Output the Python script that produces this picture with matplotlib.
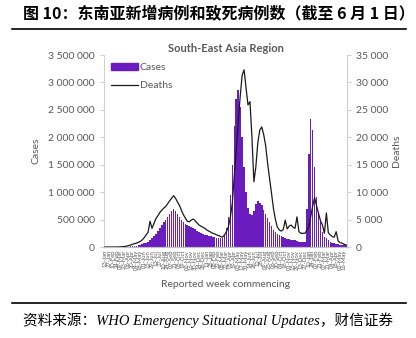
import numpy as np
import pandas as pd
import matplotlib
matplotlib.use('Agg')
import matplotlib.pyplot as plt
from matplotlib.patches import Patch
from matplotlib.lines import Line2D
from matplotlib.ticker import FuncFormatter

# weekly data, South-East Asia region, week commencing 13-Jan-2020
weeks = pd.date_range('2020-01-13', periods=124, freq='7D')
week_labels = [d.strftime('%d-%b') for d in weeks]

# cases in millions
cases_m = [0, 0, 0, 0, 0, 0, 0, 0.0005, 0.001, 0.002,
           0.004, 0.006, 0.008, 0.01, 0.013, 0.017, 0.022, 0.03, 0.04, 0.05,
           0.065, 0.08, 0.1, 0.13, 0.16, 0.2, 0.24, 0.29, 0.34, 0.4,
           0.45, 0.5, 0.55, 0.6, 0.66, 0.69, 0.66, 0.6, 0.55, 0.5,
           0.45, 0.42, 0.4, 0.39, 0.37, 0.35, 0.32, 0.3, 0.27, 0.25,
           0.23, 0.22, 0.21, 0.2, 0.2, 0.19, 0.18, 0.17, 0.16, 0.16,
           0.17, 0.22, 0.35, 0.55, 0.95, 1.5, 2.2, 2.7, 2.87, 2.55,
           2.0, 1.45, 1.0, 0.72, 0.6, 0.58, 0.65, 0.78, 0.83, 0.8,
           0.76, 0.68, 0.6, 0.53, 0.46, 0.38, 0.31, 0.27, 0.24, 0.22,
           0.2, 0.18, 0.17, 0.15, 0.14, 0.13, 0.12, 0.12, 0.11, 0.1,
           0.1, 0.09, 0.1, 0.69, 1.7, 2.33, 2.13, 1.45, 0.92, 0.64,
           0.46, 0.28, 0.19, 0.16, 0.12, 0.1, 0.08, 0.07, 0.06, 0.05,
           0.04, 0.035, 0.03, 0.03]

# deaths in thousands
deaths_k = [0, 0, 0, 0, 0, 0, 0, 0.01, 0.03, 0.06,
            0.1, 0.15, 0.25, 0.35, 0.5, 0.6, 0.7, 0.85, 1.0, 1.3,
            1.7, 2.2, 2.7, 4.7, 3.4, 4.3, 5.2, 5.7, 6.3, 6.7,
            7.1, 7.4, 7.9, 8.4, 8.9, 9.35, 8.9, 8.2, 7.6, 6.7,
            5.9, 5.3, 4.7, 4.6, 4.9, 5.1, 4.8, 4.4, 4.0, 3.8,
            3.6, 3.4, 3.1, 2.9, 2.7, 2.5, 2.4, 2.2, 2.1, 1.9,
            1.8, 2.2, 2.8, 3.7, 5.5, 8.0, 13.0, 17.7, 23.0, 27.4,
            31.3, 32.3, 29.0, 25.9, 26.5, 20.1, 11.9, 14.6, 19.0, 21.3,
            21.9, 20.5, 18.5, 15.3, 12.5, 9.8, 7.0, 5.0, 3.6, 3.1,
            2.9, 3.2, 4.9, 3.3, 3.8, 4.0, 3.6, 3.4, 5.5, 2.8,
            2.5, 2.5, 2.5, 3.0, 3.7, 5.5, 7.5, 9.0, 7.5, 6.1,
            4.8, 4.0, 2.5, 6.2, 2.6, 2.2, 1.9, 1.8, 2.8, 1.1,
            0.8, 0.7, 0.5, 0.4]

cases = np.array(cases_m) * 1e6
deaths = np.array(deaths_k) * 1e3
x = np.arange(len(weeks))

plt.rcParams['font.family'] = ['Lato', 'DejaVu Sans']
gray = '#595959'
purple = '#6a1cbf'

fig = plt.figure(figsize=(4.16, 3.38), dpi=100)
ax = fig.add_axes([0.25, 0.2692, 0.584, 0.568])
ax2 = ax.twinx()

ax.bar(x, cases, width=0.8, color=purple, zorder=2)
ax2.plot(x, deaths, color='#1a1a1a', lw=0.9, zorder=3)

ax.set_xlim(-0.5, len(x) - 0.5)
ax.set_ylim(0, 3500000)
ax2.set_ylim(0, 35000)
ax.set_yticks(np.arange(0, 3500001, 500000))
ax2.set_yticks(np.arange(0, 35001, 5000))
spaced = FuncFormatter(lambda v, p: '{:,.0f}'.format(v).replace(',', ' '))
ax.yaxis.set_major_formatter(spaced)
ax2.yaxis.set_major_formatter(spaced)

ax.set_xticks(x[::2])
ax.set_xticklabels(week_labels[::2], rotation=90, fontsize=4.2, color=gray)
ax.tick_params(axis='x', length=0, pad=2)
ax.tick_params(axis='y', labelsize=7.5, labelcolor=gray, color='#d0d0d0', length=3)
ax2.tick_params(axis='y', labelsize=7.5, labelcolor=gray, color='#d0d0d0', length=3)

for a in (ax, ax2):
    a.spines['top'].set_visible(False)
    a.spines['left'].set_color('#d0d0d0')
    a.spines['right'].set_color('#d0d0d0')
    a.spines['bottom'].set_color('#bfbfbf')
ax.spines['right'].set_visible(False)
ax2.spines['left'].set_visible(False)

ax.set_ylabel('Cases', fontsize=7.5, color=gray, labelpad=6)
ax2.set_ylabel('Deaths', fontsize=7.5, color=gray, labelpad=3)
ax.set_xlabel('Reported week commencing', fontsize=7.5, color=gray, labelpad=7)
ax.set_title('South-East Asia Region', fontsize=8, fontweight='bold', color=gray, pad=2)

handles = [Patch(color=purple), Line2D([0], [0], color='#1a1a1a', lw=0.9)]
ax.legend(handles, ['Cases', 'Deaths'], loc='upper left', bbox_to_anchor=(0.01, 0.98),
          frameon=False, fontsize=7.5, labelcolor=gray, handlelength=2.6,
          handleheight=0.6, handletextpad=0.2, labelspacing=0.9, borderaxespad=0)

# page furniture
fig.text(23 / 416, 1 - 14 / 338, '图 10：东南亚新增病例和致死病例数（截至 6 月 1 日）',
         fontsize=11.5, fontweight='bold', va='center', ha='left',
         family=['Noto Sans CJK SC', 'DejaVu Sans'])
fig.add_artist(Line2D([12 / 416, 406 / 416], [1 - 28.5 / 338] * 2, color='black', lw=1.2))
fig.add_artist(Line2D([12 / 416, 406 / 416], [1 - 303 / 338] * 2, color='black', lw=1.2))
fig.text(23 / 416, 1 - 320 / 338, '资料来源：WHO Emergency Situational Updates，财信证券',
         fontsize=10.5, style='italic', va='center', ha='left',
         family=['Liberation Serif', 'Noto Sans CJK SC'])

fig.savefig('out.png', dpi=100)
